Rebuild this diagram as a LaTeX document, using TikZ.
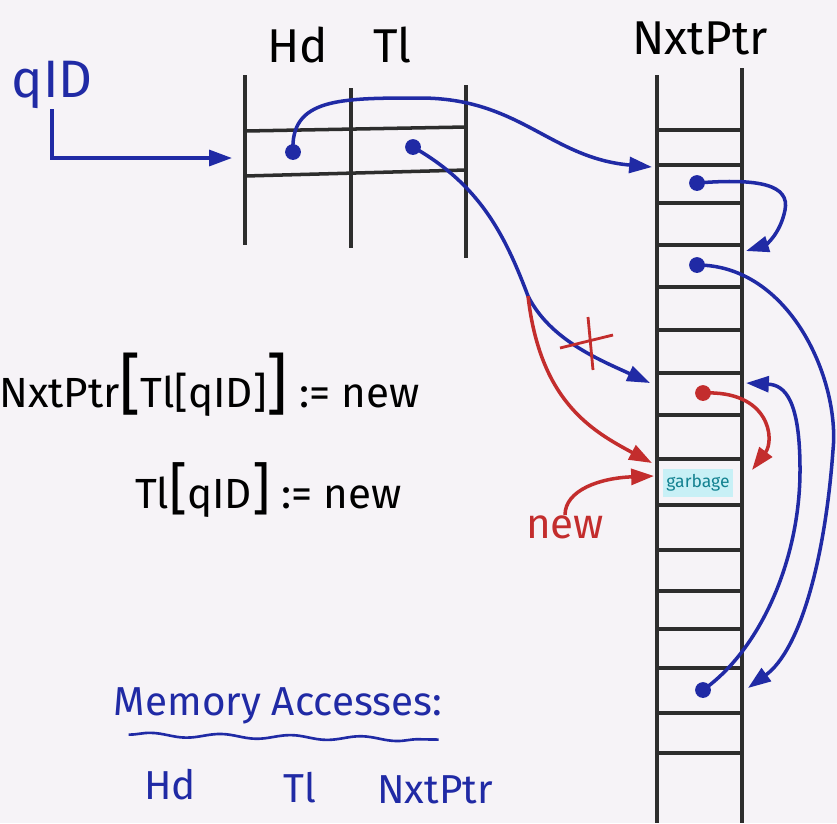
\documentclass[tikz,border=0pt]{standalone}
\usepackage{fontspec}
\setmainfont{Fira Sans}
\usetikzlibrary{arrows.meta,decorations.pathmorphing}
\definecolor{paper}{RGB}{246,243,247}
\definecolor{penblue}{RGB}{32,42,165}
\definecolor{penred}{RGB}{195,45,45}
\definecolor{pengray}{RGB}{45,45,45}
\definecolor{garbtext}{RGB}{20,130,145}
\definecolor{garbfill}{RGB}{200,240,246}

\begin{document}
\begin{tikzpicture}[
        x=0.02cm, y=-0.02cm,
        grid/.style={draw=pengray, line width=2pt},
        link/.style={draw=penblue, line width=2pt, -{Triangle[length=13pt, width=9pt]}},
        redlink/.style={link, draw=penred},
        dot/.style={circle, fill=penblue, inner sep=0pt, minimum size=9pt},
        reddot/.style={dot, fill=penred},
        head/.style={font=\fontsize{27}{30}\selectfont, text=black, inner sep=0pt},
        code/.style={font=\fontsize{24}{28}\selectfont, text=black, inner sep=0pt},
        note/.style={font=\fontsize{23}{28}\selectfont, text=penblue, inner sep=0pt}
    ]
    \useasboundingbox[fill=paper] (0,0) rectangle (837,823);

    % Head / tail table
    \draw[grid] (245,75) -- (245,245);
    \draw[grid] (351,88) -- (351,248);
    \draw[grid] (466,85) -- (466,258);
    \draw[grid] (245,131) -- (466,127);
    \draw[grid] (245,176) -- (466,170);
    \node[head] (hd) at (298,45) {Hd};
    \node[head] (tl) at (392,45) {Tl};

    % NxtPtr column
    \draw[grid] (657,75) -- (657,823);
    \draw[grid] (742,68) -- (742,823);
    \foreach \y in {130,165,203,245,287,330,373,415,459,505,550,591,629,668,713,753}
        \draw[grid] (657,\y) -- (742,\y);
    \node[head] (nxt) at (700,38) {NxtPtr};
    \node[font=\fontsize{10}{10}\selectfont, text=garbtext, fill=garbfill,
          inner xsep=2pt, inner ysep=3pt] (garbage) at (698,483) {garbage};

    % qID
    \node[note, font=\fontsize{30}{32}\selectfont] (qid) at (52,85) {qID};
    \coordinate (tblin) at (232,158);
    \draw[link] (qid.south) |- (tblin);

    % Pointers
    \node[dot] (hdptr) at (293,152) {};
    \node[dot] (tlptr) at (413,147) {};
    \node[dot] (nx1) at (697,183) {};
    \node[dot] (nx2) at (697,265) {};
    \node[dot] (nx3) at (703,690) {};
    \node[reddot] (nx4) at (703,393) {};
    \coordinate (slot1) at (652,167);
    \coordinate (slot2) at (746,251);
    \coordinate (slot3) at (650,383);
    \coordinate (slot3r) at (746,383);
    \coordinate (slot4) at (748,688);
    \coordinate (garbl) at (652,463);
    \coordinate (garbin) at (654,476);
    \coordinate (garbr) at (752,470);
    \coordinate (branch) at (528,296);

    \draw[link] (hdptr.center) .. controls (290,98) and (340,98) .. (420,98)
        .. controls (520,98) and (550,158) .. (slot1);
    \draw[link] (tlptr.center) .. controls (480,185) and (505,235) .. (branch)
        .. controls (550,340) and (600,360) .. (slot3);
    \draw[link] (nx1.center) .. controls (760,178) and (790,185) .. (785,210)
        .. controls (780,235) and (765,245) .. (slot2);
    \draw[link] (nx2.center) .. controls (790,265) and (840,380) .. (833,450)
        .. controls (825,560) and (800,650) .. (slot4);
    \draw[link] (nx3.center) .. controls (760,650) and (800,560) .. (800,470)
        .. controls (800,400) and (785,385) .. (slot3r);

    % Update of the tail pointer
    \draw[redlink] (branch) .. controls (540,400) and (590,430) .. (garbl);
    \draw[draw=penred, line width=1.6pt] (560,348) -- (613,335) (588,317) -- (593,370);
    \draw[redlink] (nx4.center) .. controls (770,390) and (775,440) .. (garbr);
    \node[font=\fontsize{24}{26}\selectfont, text=penred, inner sep=0pt] (new) at (565,527) {new};
    \draw[redlink] (new.north) .. controls (565,490) and (600,478) .. (garbin);

    % Code
    \node[code, anchor=east] (line1) at (420,385)
        {NxtPtr{\fontsize{38}{38}\selectfont[}Tl[qID]{\fontsize{38}{38}\selectfont]} := new};
    \node[code, anchor=east] (line2) at (402,490) {Tl{\fontsize{32}{32}\selectfont[}qID{\fontsize{32}{32}\selectfont]} := new};

    % Memory accesses
    \node[note] (mem) at (278,706) {Memory Accesses:};
    \draw[draw=penblue, line width=1.5pt, decorate, decoration={snake, amplitude=1.2pt, segment length=40pt}]
        (mem.south west) ++(15,10) -- ++(310,5);
    \node[note] (acchd) at (170,785) {Hd};
    \node[note] (acctl) at (300,788) {Tl};
    \node[note] (accnxt) at (435,790) {NxtPtr};

\end{tikzpicture}
\end{document}
